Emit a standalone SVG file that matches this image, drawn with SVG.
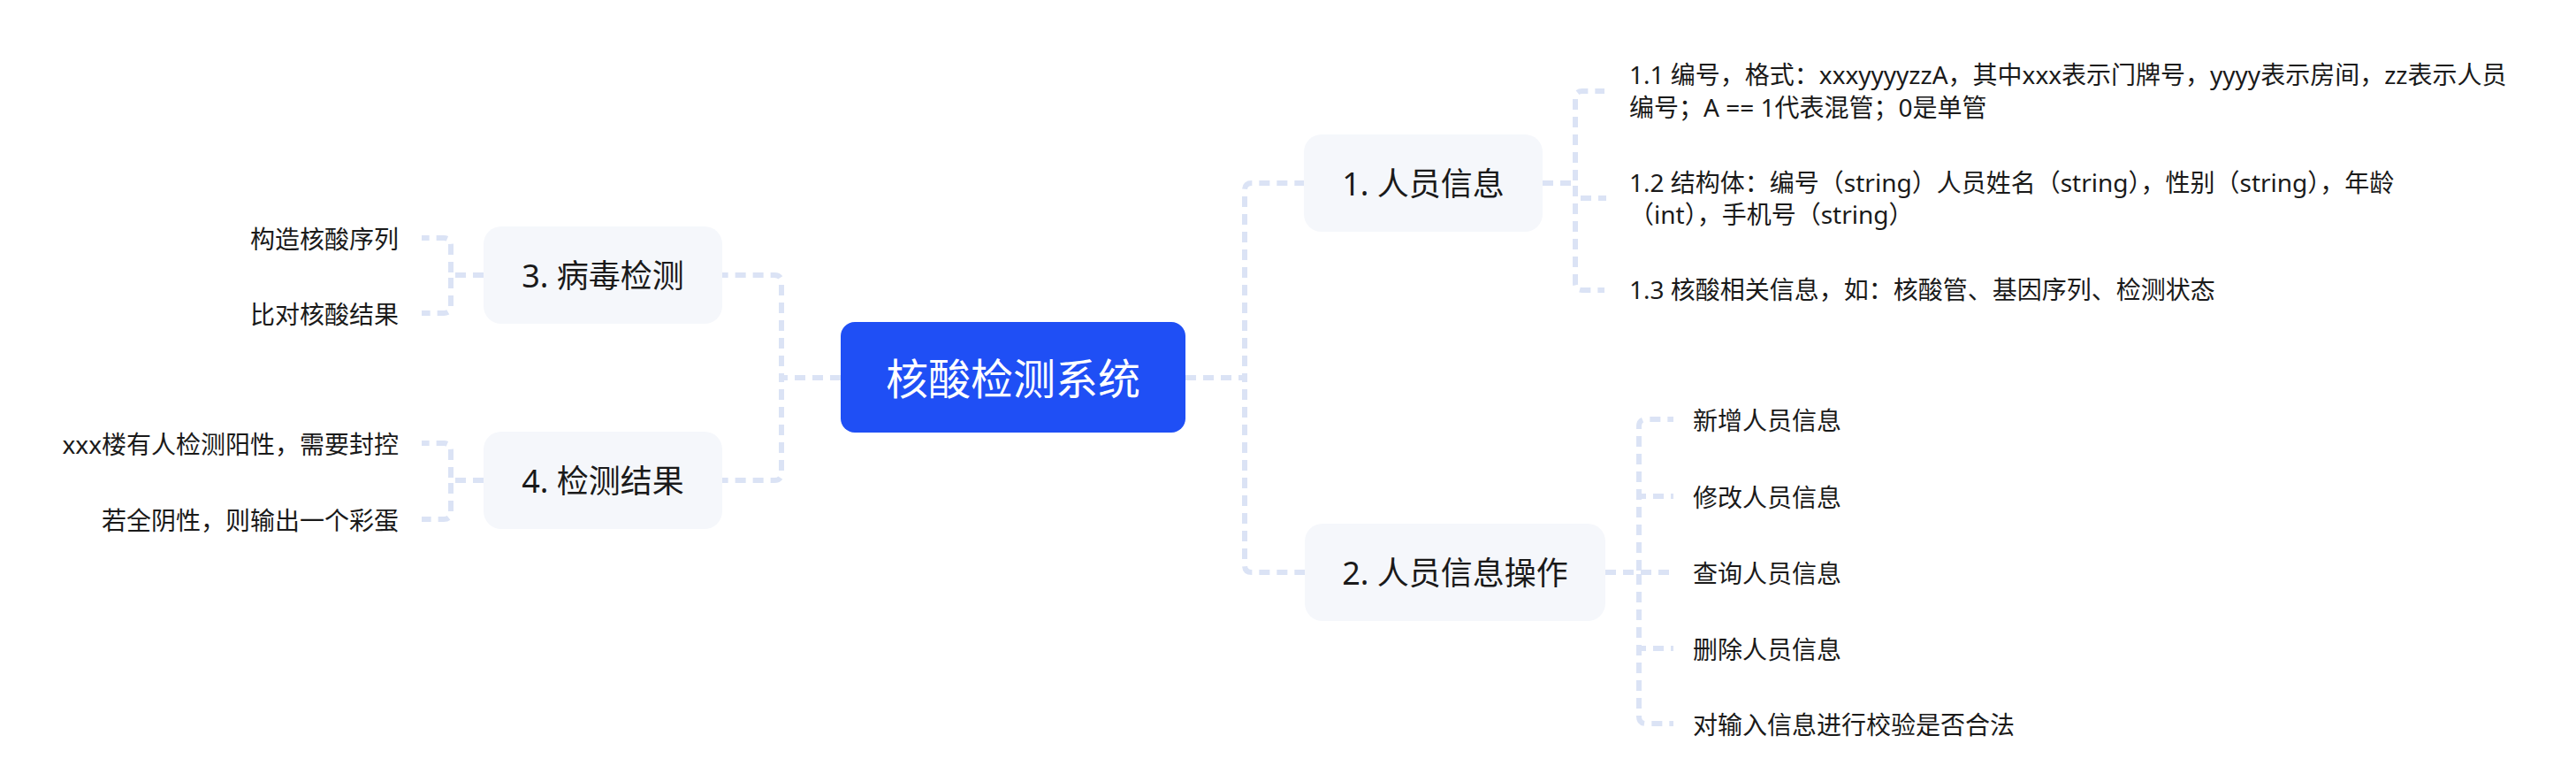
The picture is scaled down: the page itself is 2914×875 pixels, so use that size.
<svg xmlns="http://www.w3.org/2000/svg" width="2914" height="875" viewBox="0 0 2914 875">
<style>
.c{fill:none;stroke:#dbe3f5;stroke-width:6;stroke-dasharray:12 8}
.n{fill:#f5f7fb}
.t{font-family:"Noto Sans","Noto Sans CJK SC",sans-serif;fill:#1a1a1a}
.nt{font-size:36px;text-anchor:middle}
.lt{font-size:28px}
.rt{font-size:28px;text-anchor:end}
</style>
<rect width="2914" height="875" fill="#ffffff"/>
<g id="connectors">
<path class="c" d="M1341,427 H1408 V215 Q1408,207 1416,207 H1475"/>
<path class="c" d="M1341,427 H1408 V639 Q1408,647 1416,647 H1476"/>
<path class="c" d="M951,427 H884 V319 Q884,311 876,311 H817"/>
<path class="c" d="M951,427 H884 V535 Q884,543 876,543 H817"/>
<path class="c" d="M1745,207 H1782 V111 Q1782,103 1790,103 H1815"/>
<path class="c" d="M1745,207 H1782 V224 H1817"/>
<path class="c" d="M1745,207 H1782 V320 Q1782,328 1790,328 H1815"/>
<path class="c" d="M1816,647 H1854 V482 Q1854,474 1862,474 H1893"/>
<path class="c" d="M1816,647 H1854 V561 H1893"/>
<path class="c" d="M1816,647 H1893"/>
<path class="c" d="M1816,647 H1854 V733 H1893"/>
<path class="c" d="M1816,647 H1854 V810 Q1854,818 1862,818 H1893"/>
<path class="c" d="M547,311 H510 V277 Q510,269 502,269 H477"/>
<path class="c" d="M547,311 H510 V346 Q510,354 502,354 H477"/>
<path class="c" d="M547,543 H510 V509 Q510,501 502,501 H477"/>
<path class="c" d="M547,543 H510 V579 Q510,587 502,587 H477"/>
</g>
<g id="root">
<rect x="951" y="364" width="390" height="125" rx="16" fill="#1f4ff5"/>
<text class="t" x="1146" y="446" font-size="48" text-anchor="middle" style="fill:#ffffff">核酸检测系统</text>
</g>
<g id="n1">
<rect class="n" x="1475" y="152" width="270" height="110" rx="20"/>
<text class="t nt" x="1610" y="221">1. 人员信息</text>
</g>
<g id="n2">
<rect class="n" x="1476" y="592" width="340" height="110" rx="20"/>
<text class="t nt" x="1646" y="661">2. 人员信息操作</text>
</g>
<g id="n3">
<rect class="n" x="547" y="256" width="270" height="110" rx="20"/>
<text class="t nt" x="682" y="325">3. 病毒检测</text>
</g>
<g id="n4">
<rect class="n" x="547" y="488" width="270" height="110" rx="20"/>
<text class="t nt" x="682" y="557">4. 检测结果</text>
</g>
<g id="n1-1">
<text class="t lt" x="1843" y="95">1.1 编号，格式：xxxyyyyzzA，其中xxx表示门牌号，yyyy表示房间，zz表示人员</text>
<text class="t lt" x="1843" y="132">编号；A == 1代表混管；0是单管</text>
</g>
<g id="n1-2">
<text class="t lt" x="1843" y="217">1.2 结构体：编号（string）人员姓名（string），性别（string），年龄</text>
<text class="t lt" x="1843" y="253">（int），手机号（string）</text>
</g>
<g id="n1-3">
<text class="t lt" x="1843" y="338">1.3 核酸相关信息，如：核酸管、基因序列、检测状态</text>
</g>
<g id="n2-1"><text class="t lt" x="1915" y="486">新增人员信息</text></g>
<g id="n2-2"><text class="t lt" x="1915" y="573">修改人员信息</text></g>
<g id="n2-3"><text class="t lt" x="1915" y="659">查询人员信息</text></g>
<g id="n2-4"><text class="t lt" x="1915" y="745">删除人员信息</text></g>
<g id="n2-5"><text class="t lt" x="1915" y="830">对输入信息进行校验是否合法</text></g>
<g id="n3-1"><text class="t rt" x="451" y="281">构造核酸序列</text></g>
<g id="n3-2"><text class="t rt" x="451" y="366">比对核酸结果</text></g>
<g id="n4-1"><text class="t rt" x="451" y="513">xxx楼有人检测阳性，需要封控</text></g>
<g id="n4-2"><text class="t rt" x="451" y="599">若全阴性，则输出一个彩蛋</text></g>
</svg>
